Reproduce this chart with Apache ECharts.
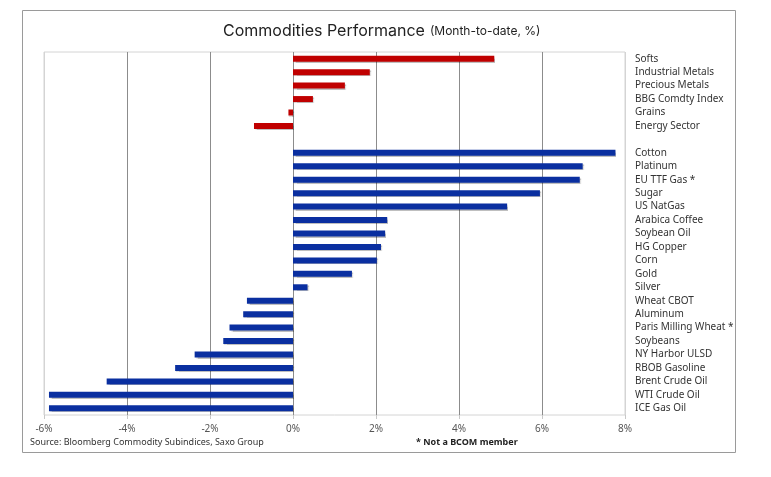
<!DOCTYPE html>
<html><head><meta charset="utf-8">
<script src="https://cdn.jsdelivr.net/npm/echarts@6/dist/echarts.min.js"></script>
<style>html,body{margin:0;padding:0;background:#fff}#c{width:771px;height:477px}</style>
</head><body><div id="c"></div>
<script>
const sectorNames = ['Softs','Industrial Metals','Precious Metals','BBG Comdty Index','Grains','Energy Sector'];
const sectorValues = [4.85, 1.85, 1.25, 0.48, -0.11, -0.94];
const commodityNames = ['Cotton','Platinum','EU TTF Gas *','Sugar','US NatGas','Arabica Coffee','Soybean Oil','HG Copper','Corn','Gold','Silver','Wheat CBOT','Aluminum','Paris Milling Wheat *','Soybeans','NY Harbor ULSD','RBOB Gasoline','Brent Crude Oil','WTI Crude Oil','ICE Gas Oil'];
const commodityValues = [7.77, 6.98, 6.91, 5.95, 5.16, 2.27, 2.22, 2.12, 2.02, 1.42, 0.35, -1.11, -1.20, -1.53, -1.68, -2.37, -2.84, -4.49, -5.88, -5.88];
const tickValues = [-6, -4, -2, 0, 2, 4, 6, 8];

const categories = [...sectorNames, ' ', ...commodityNames];
const redData = [...sectorValues, null, ...commodityNames.map(() => null)];
const blueData = [...sectorNames.map(() => null), null, ...commodityValues];

const chart = echarts.init(document.getElementById('c'), null, {renderer: 'canvas'});
const barShadow = {shadowColor: 'rgba(0,0,0,0.25)', shadowBlur: 1, shadowOffsetX: 1, shadowOffsetY: 1};
chart.setOption({
  animation: false,
  backgroundColor: '#fff',
  title: {
    text: '{a|Commodities Performance} {b|(Month-to-date, %)}',
    left: 218, top: 17,
    textStyle: {
      fontWeight: 'normal',
      rich: {
        a: {fontFamily: 'Inter', fontSize: 16, fontWeight: 'normal', color: '#222'},
        b: {fontFamily: 'Inter', fontSize: 12, fontWeight: 'normal', color: '#222'}
      }
    }
  },
  graphic: [
    {type: 'rect', shape: {x: 22.5, y: 10.5, width: 713, height: 442}, style: {fill: 'none', stroke: '#9a9a9a', lineWidth: 1}, silent: true},
    {type: 'text', left: 30, top: 438, style: {text: 'Source: Bloomberg Commodity Subindices, Saxo Group', fontFamily: 'Noto Sans', fontSize: 9, fill: '#333'}},
    {type: 'text', left: 416, top: 438, style: {text: '* Not a BCOM member', fontFamily: 'Noto Sans', fontSize: 9, fontWeight: 'bold', fill: '#222'}}
  ],
  grid: {left: 44, right: 146, top: 52, bottom: 62, show: true, borderColor: '#d4d4d4', borderWidth: 1},
  xAxis: {
    type: 'value', min: tickValues[0], max: tickValues[tickValues.length - 1], interval: 2,
    axisLine: {show: false},
    axisTick: {show: true, length: 4, lineStyle: {color: '#c8c8c8'}},
    axisLabel: {formatter: v => v + '%', fontFamily: 'Noto Sans', fontSize: 10, color: '#555', margin: 9},
    splitLine: {show: true, lineStyle: {color: ['#d4d4d4','#8c8c8c','#8c8c8c','#8c8c8c','#8c8c8c','#8c8c8c','#8c8c8c','#d4d4d4'], width: 1}}
  },
  yAxis: {
    type: 'category', data: categories, inverse: true, position: 'right',
    axisLine: {show: false}, axisTick: {show: false},
    axisLabel: {fontFamily: 'Noto Sans', fontSize: 10, color: '#333', margin: 10, align: 'left'}
  },
  series: [
    {type: 'bar', data: redData, barWidth: 6, barGap: '-100%', itemStyle: Object.assign({color: '#c00000'}, barShadow)},
    {type: 'bar', data: blueData, barWidth: 6, barGap: '-100%', itemStyle: Object.assign({color: '#0a2fa0'}, barShadow)}
  ]
});
</script></body></html>
